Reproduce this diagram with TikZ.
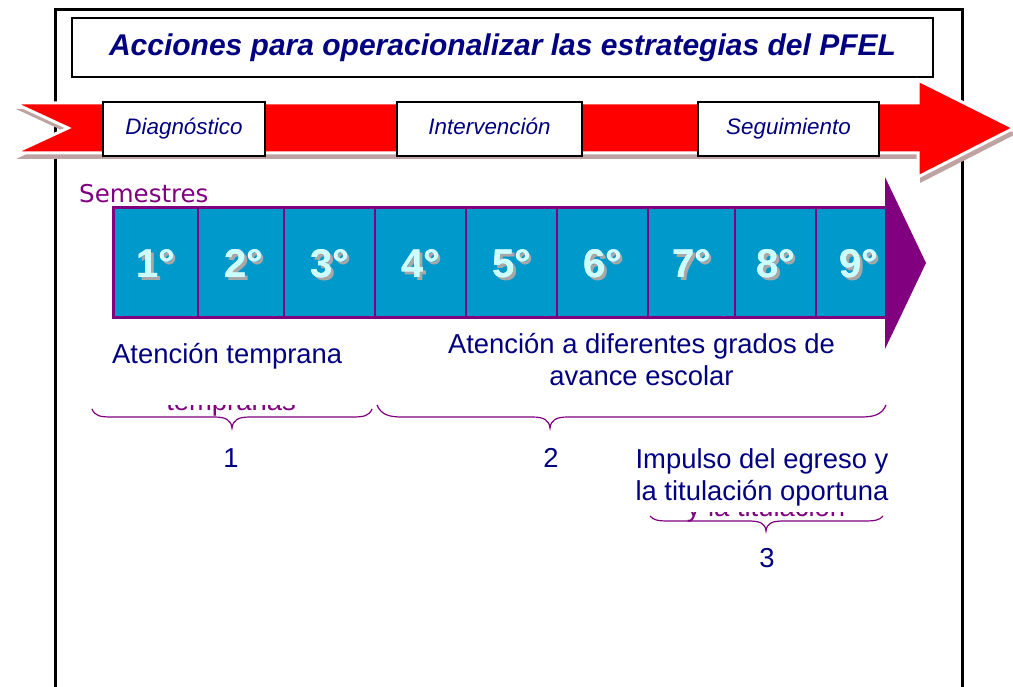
\documentclass[tikz,border=0pt]{standalone}
\usepackage{fontspec}
\setmainfont{Liberation Sans}
\newfontfamily\arialf{Liberation Sans}
\newfontfamily\verdf{DejaVu Sans}
\definecolor{navy}{HTML}{000080}
\definecolor{purp}{HTML}{800080}
\definecolor{cellfill}{HTML}{0099CC}
\definecolor{arrred}{HTML}{FF0000}
\definecolor{numcol}{HTML}{CCFFFF}
\definecolor{numshadow}{HTML}{A8A8A8}
\definecolor{hatchcol}{HTML}{BFA2A2}
\newcommand\shadednum[1]{\leavevmode\rlap{\kern2.5pt\raisebox{-2.5pt}{\color{numshadow}#1}}\rlap{\kern-0.8pt\raisebox{0.8pt}{\color{white}#1}}#1}
\tikzset{
  phasebox/.style={draw=black, line width=1.5pt, fill=white, minimum height=54pt, inner sep=0pt,
    text height=16pt, text depth=5pt,
    font=\arialf\itshape\fontsize{22.4}{26}\selectfont, text=navy},
  cellbox/.style={draw=purp, line width=2pt, fill=cellfill, minimum height=110pt, inner sep=0pt, anchor=west},
  numtxt/.style={anchor=base, inner sep=0pt, font=\arialf\bfseries\fontsize{40}{46}\selectfont, text=numcol},
  bodytxt/.style={anchor=base, inner sep=0pt, font=\arialf\fontsize{27.4}{32}\selectfont, text=navy},
  fragtxt/.style={anchor=base, inner sep=0pt, font=\arialf\fontsize{27.4}{32}\selectfont, text=purp},
  bracestyle/.style={draw=purp, line width=1.2pt}
}
\begin{document}
\begin{tikzpicture}[x=1pt,y=-1pt]
\clip (0,0) rectangle (1013,687);
\fill[white] (0,0) rectangle (1013,687);
% outer frame
\draw[line width=3pt] (55,10) rectangle (962,720);
% title
\node[draw=black, line width=1.5pt, fill=white, minimum width=861pt, minimum height=59pt, inner sep=0pt,
  font=\arialf\bfseries\itshape\fontsize{30}{36}\selectfont, text=navy] (title) at (502.5,47.5)
  {Acciones para operacionalizar las estrategias del PFEL};
% red arrow shadow
\fill[hatchcol] (16,109) -- (920,109) -- (920,86) -- (1016,134) -- (920,183) -- (920,159) -- (16,159) -- (70,134) -- cycle;
% red arrow
\filldraw[fill=arrred, draw=white, line width=3pt, line join=miter]
  (14,103) -- (918,103) -- (918,80) -- (1014,128) -- (918,177) -- (918,153) -- (14,153) -- (68,128) -- cycle;
% phase boxes
\node[phasebox, minimum width=162pt] (diag) at (184,129) {Diagnóstico};
\node[phasebox, minimum width=185pt] (inter) at (489.5,129) {Intervención};
\node[phasebox, minimum width=181pt] (segui) at (788.5,129) {Seguimiento};
% Semestres label
\node[anchor=base west, inner sep=0pt, font=\verdf\fontsize{24.5}{30}\selectfont, text=purp] (sem) at (79,203) {Semestres};
% purple arrow head
\fill[purp] (885,177) -- (926,263) -- (885,349) -- cycle;
% cells
\node[cellbox, minimum width=84pt] (c1) at (113,263) {};
\node[cellbox, minimum width=86pt] (c2) at (197,263) {};
\node[cellbox, minimum width=91pt] (c3) at (283,263) {};
\node[cellbox, minimum width=91pt] (c4) at (374,263) {};
\node[cellbox, minimum width=91pt] (c5) at (465,263) {};
\node[cellbox, minimum width=91pt] (c6) at (556,263) {};
\node[cellbox, minimum width=87pt] (c7) at (647,263) {};
\node[cellbox, minimum width=81pt] (c8) at (734,263) {};
\node[cellbox, minimum width=71pt] (c9) at (815,263) {};
\draw[purp, line width=3pt] (113,208) rectangle (886,318);
% numbers with shadow
\foreach \n/\cx in {1/156,2/244,3/330,4/421,5/512,6/603,7/692,8/776,9/859}{
  \node[numtxt] (n\n) at (\cx,278) {\shadednum{\n°}};
}
% texts
\node[bodytxt, anchor=base west] (t1) at (112,363) {Atención temprana};
\node[bodytxt] (t2a) at (641.5,353) {Atención a diferentes grados de};
\node[bodytxt] (t2b) at (641.5,385) {avance escolar};
% partially hidden fragments
\begin{scope}
  \clip (150,405) rectangle (320,425);
  \node[fragtxt] (f1) at (231,410) {tempranas};
\end{scope}
\begin{scope}
  \clip (670,512.5) rectangle (870,530);
  \node[fragtxt] (f2) at (766,516.5) {y la titulación};
\end{scope}
% braces
\draw[bracestyle] (92,409) .. controls (95,416) and (100,417) .. (112,417) -- (214,417)
  .. controls (226,417) and (231,420) .. (232,428) .. controls (233,420) and (238,417) .. (250,417)
  -- (352,417) .. controls (364,417) and (369,416) .. (372,409);
\draw[bracestyle] (377,405) .. controls (381,415) and (390,417) .. (402,417) -- (532,417)
  .. controls (544,417) and (549,420) .. (550,428) .. controls (551,420) and (556,417) .. (568,417)
  -- (861,417) .. controls (873,417) and (882,415) .. (886,405);
\draw[bracestyle] (650,516) .. controls (653,520) and (658,521) .. (668,521) -- (748,521)
  .. controls (760,521) and (765,523) .. (766,531) .. controls (767,523) and (772,521) .. (784,521)
  -- (865,521) .. controls (875,521) and (880,520) .. (883,516);
% brace labels
\node[bodytxt] (l1) at (231,467) {1};
\node[bodytxt] (l2) at (551,467) {2};
\node[bodytxt] (t3a) at (762,468) {Impulso del egreso y};
\node[bodytxt] (t3b) at (762,500) {la titulación oportuna};
\node[bodytxt] (l3) at (767,567) {3};
\end{tikzpicture}
\end{document}
